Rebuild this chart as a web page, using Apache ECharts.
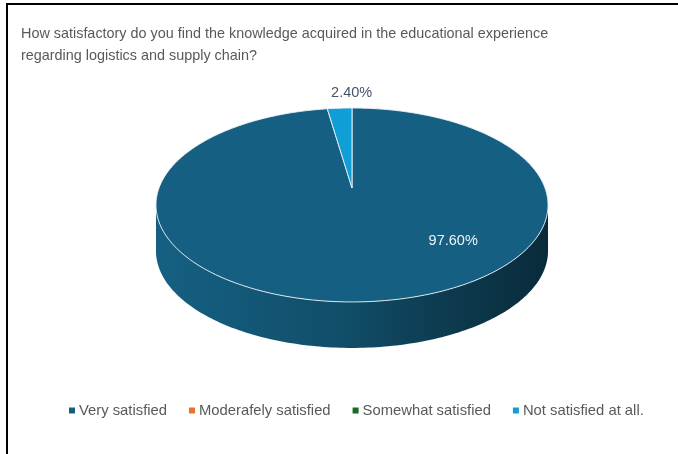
<!DOCTYPE html>
<html>
<head>
<meta charset="utf-8">
<title>Satisfaction with logistics and supply chain knowledge</title>
<script src="https://cdn.jsdelivr.net/npm/echarts@6/dist/echarts.min.js"></script>
<style>
  html, body { margin: 0; padding: 0; background: #ffffff; }
  #chart { width: 678px; height: 454px; }
</style>
</head>
<body>
<div id="chart"></div>
<script>
// Survey answers and their shares (percent)
const categories = ['Very satisfied', 'Moderafely satisfied', 'Somewhat satisfied', 'Not satisfied at all.'];
const shares = [97.6, 0, 0, 2.4];
const sliceColors = ['#156082', '#E97132', '#196B24', '#0F9ED5'];
const titleLines = [
  'How satisfactory do you find the knowledge acquired in the educational experience',
  'regarding logistics and supply chain?'
];

const total = shares.reduce((s, v) => s + v, 0);

// Tilted disc seen in perspective: angle a in degrees, clockwise from 12 o'clock
const CX = 352, CY = 188;     // projected centre of the disc
const RX = 193, RY = 94;      // horizontal / vertical reach of the rim
const K = 0.175;              // perspective strength
const DEPTH = 46;             // thickness of the disc on screen
const FONT = 'Liberation Sans, Arial, sans-serif';

function project(a, rho, drop) {
  const r = a * Math.PI / 180;
  const s = Math.sin(r) * rho, c = Math.cos(r) * rho;
  const d = 1 + K * c;
  return [CX + RX * s / d, CY - RY * c / d + (drop || 0)];
}

function sliceRange(idx) {
  let start = 0;
  for (let i = 0; i < idx; i++) start += shares[i];
  return [start / total * 360, (start + shares[idx]) / total * 360];
}

function rim(a0, a1, drop) {
  const pts = [];
  const n = Math.max(2, Math.ceil(Math.abs(a1 - a0)));
  for (let i = 0; i <= n; i++) pts.push(project(a0 + (a1 - a0) * i / n, 1, drop));
  return pts;
}

// The rim is visible between the two silhouette angles
const SIL = 180 - Math.acos(K) * 180 / Math.PI;   // ~100 deg
const FRONT = [SIL, 360 - SIL];

function shade(hex, f) {
  const n = parseInt(hex.slice(1), 16);
  const ch = [(n >> 16) & 255, (n >> 8) & 255, n & 255].map(v => Math.round(v * f));
  return 'rgb(' + ch.join(',') + ')';
}

function renderSide(params, api) {
  const idx = params.dataIndex;
  if (!api.value(0)) return null;
  const [s, e] = sliceRange(idx);
  const lo = Math.max(s, FRONT[0]), hi = Math.min(e, FRONT[1]);
  if (hi <= lo) return null;
  const pts = rim(lo, hi, 0).concat(rim(hi, lo, DEPTH));
  const base = sliceColors[idx];
  return {
    type: 'polygon',
    shape: { points: pts },
    style: {
      fill: new echarts.graphic.LinearGradient(0, 0, 1, 0, [
        { offset: 0, color: shade(base, 1.0) },
        { offset: 0.45, color: shade(base, 0.82) },
        { offset: 0.75, color: shade(base, 0.6) },
        { offset: 1, color: shade(base, 0.45) }
      ]),
      stroke: null
    }
  };
}

function renderTop(params, api) {
  const idx = params.dataIndex;
  const value = api.value(0);
  if (!value) return null;
  const [s, e] = sliceRange(idx);
  const pts = [project(0, 0, 0)].concat(rim(s, e, 0));
  const label = value.toFixed(2) + '%';
  let text;
  if (value > 10) {
    const p = project(137, 0.7, 0);
    text = {
      type: 'text', x: p[0], y: p[1],
      style: { text: label, fill: '#eef3f7', fontSize: 14.5, fontFamily: FONT, align: 'center', verticalAlign: 'middle' }
    };
  } else {
    const p = project((s + e) / 2, 1, 0);
    text = {
      type: 'text', x: p[0] + 12, y: p[1] - 15,
      style: { text: label, fill: '#44546A', fontSize: 14.5, fontFamily: FONT, align: 'center', verticalAlign: 'middle' }
    };
  }
  return {
    type: 'group',
    children: [
      {
        type: 'polygon',
        shape: { points: pts },
        style: { fill: sliceColors[idx], stroke: 'rgba(235,242,247,0.9)', lineWidth: 1, lineJoin: 'round' }
      },
      text
    ]
  };
}

const pieData = categories.map((name, i) => ({ name, value: shares[i], itemStyle: { color: sliceColors[i] } }));

const chart = echarts.init(document.getElementById('chart'), null, { renderer: 'canvas' });
chart.setOption({
  backgroundColor: '#ffffff',
  animation: false,
  title: {
    text: titleLines.join('\n'),
    left: 16,
    top: 18,
    textStyle: { fontSize: 14.4, fontWeight: 'normal', color: '#595959', lineHeight: 22, fontFamily: FONT }
  },
  legend: {
    data: categories,
    left: 64,
    top: 398,
    icon: 'rect',
    itemWidth: 6,
    itemHeight: 6,
    itemGap: 22,
    textStyle: { fontSize: 14.8, color: '#595959', fontFamily: FONT, padding: [0, 0, 0, -1] },
    selectedMode: false
  },
  graphic: [
    { type: 'line', shape: { x1: 6, y1: 4, x2: 678, y2: 4 }, style: { stroke: '#000', lineWidth: 2 } },
    { type: 'line', shape: { x1: 7, y1: 3, x2: 7, y2: 454 }, style: { stroke: '#000', lineWidth: 2 } }
  ],
  series: [
    {
      // carries the legend entries; the disc itself is drawn by the custom series
      type: 'pie',
      radius: [0, 0],
      center: [CX, CY],
      data: pieData,
      label: { show: false },
      labelLine: { show: false },
      silent: true
    },
    {
      type: 'custom',
      name: 'side',
      coordinateSystem: 'none',
      renderItem: renderSide,
      data: shares.map(v => [v]),
      z: 2,
      silent: true
    },
    {
      type: 'custom',
      name: 'top',
      coordinateSystem: 'none',
      renderItem: renderTop,
      data: shares.map(v => [v]),
      z: 3,
      silent: true
    }
  ]
});
</script>
</body>
</html>
